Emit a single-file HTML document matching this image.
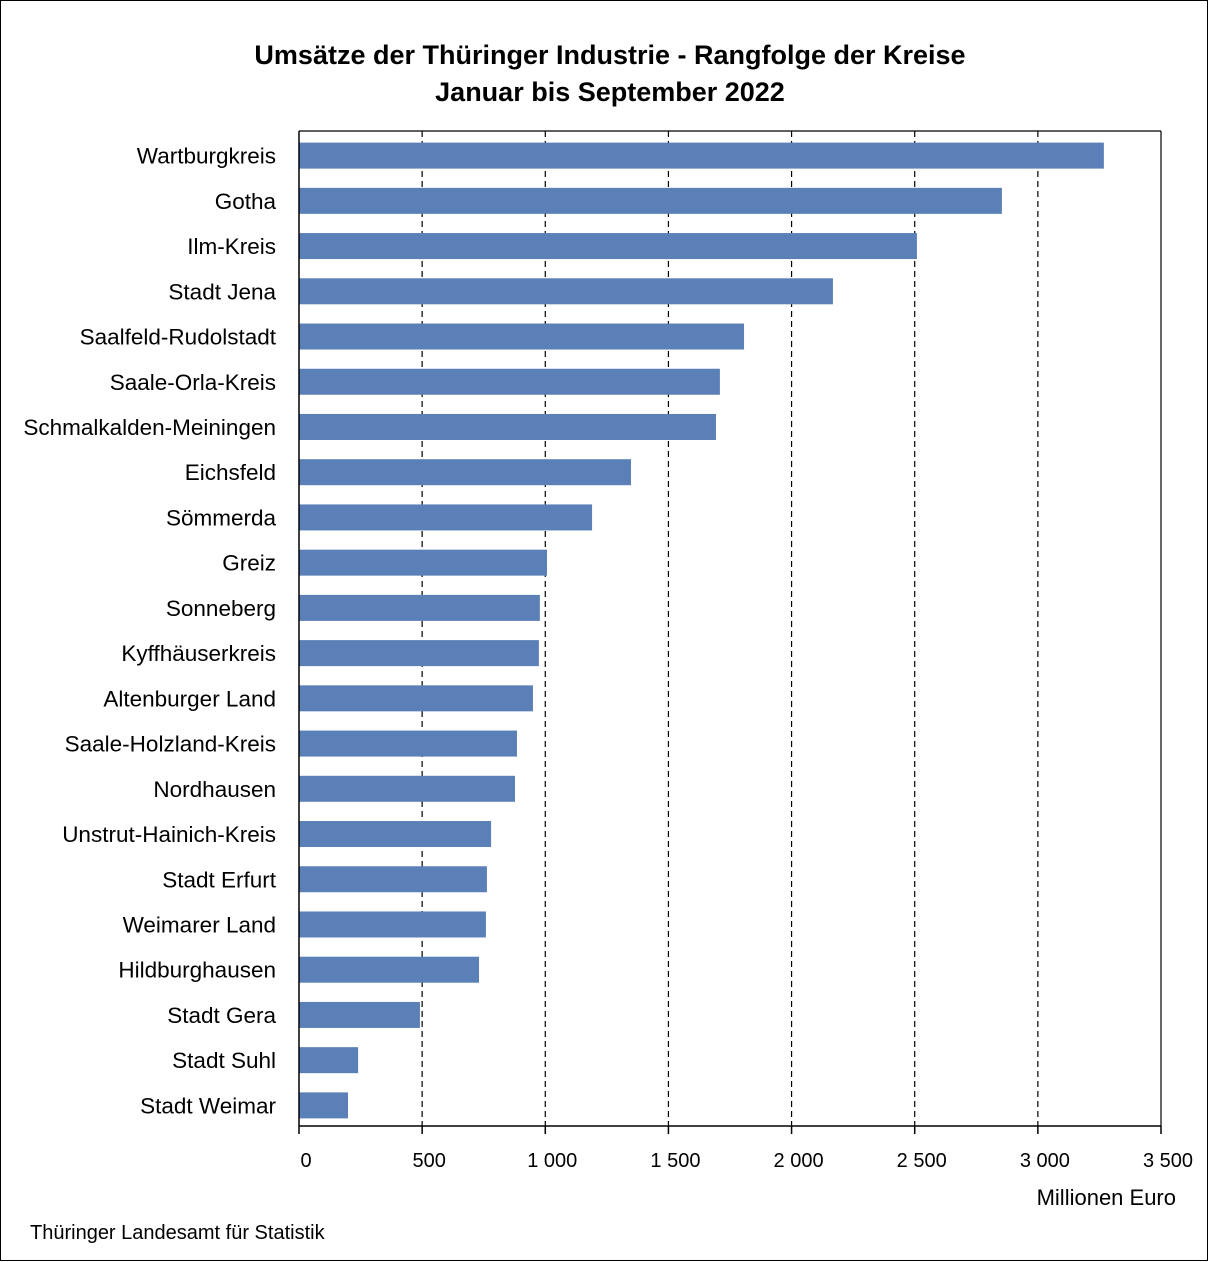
<!DOCTYPE html>
<html><head><meta charset="utf-8"><style>
body{margin:0;background:#fff;}
svg{display:block;font-family:"Liberation Sans",sans-serif;}
</style></head><body>
<svg id="chart" width="1208" height="1262" viewBox="0 0 1208 1262">
<rect x="0.5" y="0.5" width="1207" height="1260" fill="#fff" stroke="#000" stroke-width="1"/>
<text x="610" y="64" text-anchor="middle" font-size="27" font-weight="bold">Umsätze der Thüringer Industrie - Rangfolge der Kreise</text>
<text x="610" y="101" text-anchor="middle" font-size="27" font-weight="bold">Januar bis September 2022</text>
<g id="grid"></g><g id="bars"></g><g id="labels"></g><g id="axis"></g>
<text x="1176" y="1205" text-anchor="end" font-size="22">Millionen Euro</text>
<text x="30" y="1239" font-size="20">Thüringer Landesamt für Statistik</text>
</svg>
<script>
const categories=["Wartburgkreis","Gotha","Ilm-Kreis","Stadt Jena","Saalfeld-Rudolstadt","Saale-Orla-Kreis","Schmalkalden-Meiningen","Eichsfeld","Sömmerda","Greiz","Sonneberg","Kyffhäuserkreis","Altenburger Land","Saale-Holzland-Kreis","Nordhausen","Unstrut-Hainich-Kreis","Stadt Erfurt","Weimarer Land","Hildburghausen","Stadt Gera","Stadt Suhl","Stadt Weimar"];
const values=[3268,2854,2509,2168,1807,1709,1693,1348,1190,1007,978,974,950,885,877,780,763,759,731,491,240,199];
const ticks=[0,500,1000,1500,2000,2500,3000,3500];
const tickLabels=["0","500","1 000","1 500","2 000","2 500","3 000","3 500"];
const NS="http://www.w3.org/2000/svg";
const x0=299,x1=1161,yTop=131,yBot=1126,xMax=3500;
const xs=v=>x0+(v/xMax)*(x1-x0);
const band=(yBot-yTop)/categories.length;
const yc=i=>yTop+band*(i+0.5)+2;
function mk(t,a,p){const e=document.createElementNS(NS,t);for(const k in a)e.setAttribute(k,a[k]);p.appendChild(e);return e;}
const g=document.getElementById('grid'),b=document.getElementById('bars'),l=document.getElementById('labels'),ax=document.getElementById('axis');
ticks.forEach((t,i)=>{
 if(t>0&&t<xMax){const ln=mk('line',{x1:xs(t),x2:xs(t),y1:yTop,y2:yBot,stroke:'#000','stroke-width':1.2,'stroke-dasharray':'6,4'},g);
 
 }
 const tk=mk('line',{x1:xs(t),x2:xs(t),y1:yBot,y2:yBot+8,stroke:'#000','stroke-width':1.5},ax);
 
 
 const tl=mk('text',{x:xs(t)+7,y:1167,'text-anchor':'middle','font-size':20},ax);
 tl.textContent=tickLabels[i];
 
 
});
const topLine=mk('line',{x1:x0,x2:x1,y1:yTop,y2:yTop,stroke:'#000','stroke-width':1.2},ax);


const rightLine=mk('line',{x1:x1,x2:x1,y1:yTop,y2:yBot,stroke:'#000','stroke-width':1.2},ax);


const xAxisLine=mk('line',{x1:x0,x2:x1,y1:yBot,y2:yBot,stroke:'#000','stroke-width':1.5},ax);


const yAxisLine=mk('line',{x1:x0,x2:x0,y1:yTop,y2:yBot,stroke:'#000','stroke-width':1.5},ax);


categories.forEach((c,i)=>{
 const r=mk('rect',{x:x0,y:yc(i)-13,width:xs(values[i])-x0,height:26,fill:'#5b80b7'},b);
 
 
 const t=mk('text',{x:276,y:yc(i)+8,'text-anchor':'end','font-size':22.5},l);
 t.textContent=c;
 
 
});
</script>
</body></html>
